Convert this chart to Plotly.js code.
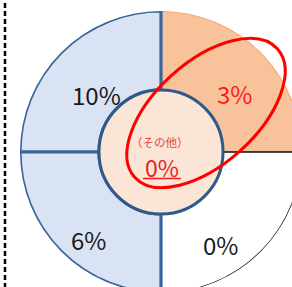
<!DOCTYPE html>
<html><head><meta charset="utf-8">
<script src="https://cdn.plot.ly/plotly-3.0.1.min.js"></script>
<style>
html,body{margin:0;padding:0;overflow:hidden;background:#fff;width:292px;height:287px}
#chart{position:absolute;left:0;top:0;width:322px;height:304px}
</style>
</head><body><div id="chart"></div>
<script>
// ---- data ----
const quadrants = ['右上', '左上', '左下', '右下'];
const quadrantTheta = [45, 135, 225, 315];
const quadrantValues = [3, 10, 6, 0];
const otherLabel = '（その他）';
const otherValue = 0;

// ---- styles ----
const W = 322, H = 304;
const CX = 161, CY = 152, R_OUT = 141;
const INNER = 44; // inner radius in radial units (outer = 100)
const fills = ['#f8c29b', '#dae3f3', '#dae3f3', '#ffffff'];
const lines = ['#f4aa72', '#3a659a', '#3a659a', '#111111'];
const lineW = [2, 3.2, 3.2, 1.5];
const textColors = ['#ff1a1a', '#1a1a1a', '#1a1a1a', '#1a1a1a'];
const labelPx = [[234, 93], [96, 94], [88, 239], [220, 244]];
const drawOrder = [0, 3, 1, 2];
const FONT = '"Noto Sans CJK JP", "Noto Sans", sans-serif';

const traces = drawOrder.map(i => ({
  type: 'barpolar',
  name: quadrants[i],
  theta: [quadrantTheta[i]],
  r: [100 - INNER],
  base: [INNER],
  width: [90],
  marker: {color: fills[i], line: {color: lines[i], width: lineW[i]}},
  hoverinfo: 'skip', showlegend: false
}));
traces.push({
  type: 'barpolar', name: 'その他',
  theta: [0], r: [INNER], base: [0], width: [360],
  marker: {color: '#fbe5d6', line: {color: '#2e5a8a', width: 3}},
  hoverinfo: 'skip', showlegend: false
});

const px = x => x / W, py = y => 1 - y / H;

const annotations = quadrantValues.map((v, i) => ({
  xref: 'paper', yref: 'paper', x: px(labelPx[i][0]), y: py(labelPx[i][1]),
  text: v + '%', showarrow: false, xanchor: 'center', yanchor: 'middle',
  font: {family: FONT, size: 24, color: textColors[i]}
}));
annotations.push({
  xref: 'paper', yref: 'paper', x: px(160), y: py(142), text: otherLabel,
  showarrow: false, xanchor: 'center', yanchor: 'middle',
  font: {family: FONT, size: 11.5, color: '#e04a44'}
});
annotations.push({
  xref: 'paper', yref: 'paper', x: px(162), y: py(167),
  text: otherValue + '%',
  showarrow: false, xanchor: 'center', yanchor: 'middle',
  font: {family: FONT, size: 23, color: '#ee1c1c'}
});

// red highlight ellipse (bezier approximation), pixel offsets from chart centre
function ellipsePath(cx, cy, a, b, deg) {
  const f = deg * Math.PI / 180, k = 0.5523;
  const u = [Math.cos(f), Math.sin(f)], v = [-Math.sin(f), Math.cos(f)];
  const P = t => [cx + a*Math.cos(t)*u[0] + b*Math.sin(t)*v[0], cy + a*Math.cos(t)*u[1] + b*Math.sin(t)*v[1]];
  const D = t => [-a*Math.sin(t)*u[0] + b*Math.cos(t)*v[0], -a*Math.sin(t)*u[1] + b*Math.cos(t)*v[1]];
  const s = p => p[0].toFixed(2) + ',' + p[1].toFixed(2);
  let d = 'M' + s(P(0));
  for (let q = 0; q < 4; q++) {
    const t0 = q*Math.PI/2, t1 = t0 + Math.PI/2;
    const p0 = P(t0), d0 = D(t0), p1 = P(t1), d1 = D(t1);
    d += ' C' + s([p0[0]+k*d0[0], p0[1]+k*d0[1]]) + ' ' + s([p1[0]-k*d1[0], p1[1]-k*d1[1]]) + ' ' + s(p1);
  }
  return d + ' Z';
}

const shapes = [
  {type: 'line', xref: 'paper', yref: 'paper', x0: px(5), x1: px(5), y0: 0, y1: 1,
   line: {color: '#000', width: 2.5, dash: '5px,3px'}},
  {type: 'line', xref: 'paper', yref: 'paper', x0: px(143), x1: px(181), y0: py(178.5), y1: py(178.5),
   line: {color: '#ee1c1c', width: 1.5}},
  {type: 'path', xref: 'paper', yref: 'paper', xsizemode: 'pixel', ysizemode: 'pixel',
   xanchor: 0.5, yanchor: 0.5, path: ellipsePath(45, 39, 96, 51, 42),
   line: {color: '#ff0000', width: 3}, fillcolor: 'rgba(0,0,0,0)'}
];

const layout = {
  width: W, height: H, margin: {l: 0, r: 0, t: 0, b: 0},
  paper_bgcolor: '#fff', plot_bgcolor: '#fff', showlegend: false,
  polar: {
    domain: {x: [(CX - R_OUT) / W, (CX + R_OUT) / W], y: [(H - CY - R_OUT) / H, (H - CY + R_OUT) / H]},
    bgcolor: 'rgba(0,0,0,0)', barmode: 'overlay',
    radialaxis: {visible: false, range: [0, 100]},
    angularaxis: {visible: false, direction: 'counterclockwise', rotation: 0}
  },
  annotations, shapes
};
Plotly.newPlot('chart', traces, layout, {staticPlot: true, displayModeBar: false});
</script>
</body></html>
